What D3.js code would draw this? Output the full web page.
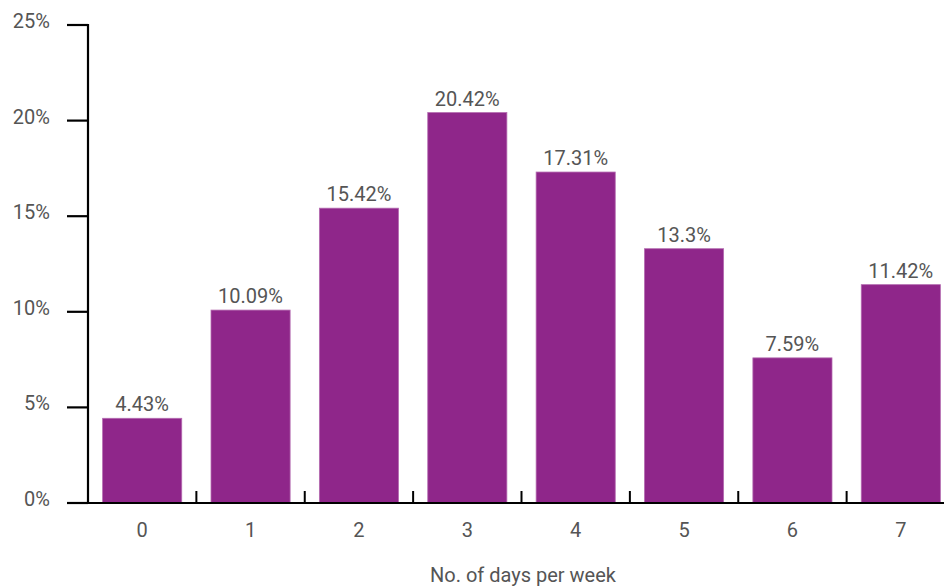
<!DOCTYPE html>
<html>
<head>
<meta charset="utf-8">
<script src="https://cdn.jsdelivr.net/npm/d3@7"></script>
<style>
  html, body { margin: 0; padding: 0; background: #fff; }
  svg { display: block; }
  text { font-family: Roboto, "Noto Sans", sans-serif; fill: #555; }
</style>
</head>
<body>
<svg id="chart" width="944" height="587"></svg>
<script>
// Share of respondents by number of active days per week
const days = ["0", "1", "2", "3", "4", "5", "6", "7"];
const shares = [4.43, 10.09, 15.42, 20.42, 17.31, 13.3, 7.59, 11.42];
const valueLabels = ["4.43%", "10.09%", "15.42%", "20.42%", "17.31%", "13.3%", "7.59%", "11.42%"];
const yTicks = [0, 5, 10, 15, 20, 25];
const xTitle = "No. of days per week";

const svg = d3.select("#chart");
const plotLeft = 88, plotRight = 955, plotTop = 25, plotBottom = 503;
const fontSize = 20;

const x = d3.scaleBand()
  .domain(days)
  .range([plotLeft, plotRight])
  .paddingInner(0.27)
  .paddingOuter(0.135);

const y = d3.scaleLinear()
  .domain([0, 25])
  .range([plotBottom, plotTop]);

// bars
svg.append("g").selectAll("rect")
  .data(days)
  .join("rect")
  .attr("x", d => x(d))
  .attr("y", (d, i) => y(shares[i]))
  .attr("width", x.bandwidth())
  .attr("height", (d, i) => y(0) - y(shares[i]))
  .attr("fill", "#8f268a")
  .attr("stroke", "#b46bb0")
  .attr("stroke-width", 0.8);

// value labels above bars
svg.append("g").selectAll("text")
  .data(days)
  .join("text")
  .attr("x", d => x(d) + x.bandwidth() / 2)
  .attr("y", (d, i) => y(shares[i]) - 7)
  .attr("text-anchor", "middle")
  .attr("font-size", fontSize)
  .text((d, i) => valueLabels[i]);

// y axis
const yAxis = svg.append("g");
yAxis.append("line")
  .attr("x1", plotLeft).attr("x2", plotLeft)
  .attr("y1", y(25) - 1).attr("y2", plotBottom + 1)
  .attr("stroke", "#000").attr("stroke-width", 2.2);
yAxis.selectAll("line.tick")
  .data(yTicks)
  .join("line")
  .attr("class", "tick")
  .attr("x1", 67).attr("x2", plotLeft)
  .attr("y1", d => y(d)).attr("y2", d => y(d))
  .attr("stroke", "#000").attr("stroke-width", 2.2);
yAxis.selectAll("text")
  .data(yTicks)
  .join("text")
  .attr("x", 50)
  .attr("y", d => y(d) + 3)
  .attr("text-anchor", "end")
  .attr("font-size", fontSize)
  .text(d => d + "%");

// x axis
const xAxis = svg.append("g");
xAxis.append("line")
  .attr("x1", plotLeft - 1).attr("x2", 944)
  .attr("y1", plotBottom).attr("y2", plotBottom)
  .attr("stroke", "#000").attr("stroke-width", 2.2);
// small upward ticks between categories
const gap = x.step() * x.paddingInner() / 2;
xAxis.selectAll("line.tick")
  .data(days.slice(1))
  .join("line")
  .attr("class", "tick")
  .attr("x1", d => x(d) - gap).attr("x2", d => x(d) - gap)
  .attr("y1", plotBottom - 12).attr("y2", plotBottom)
  .attr("stroke", "#000").attr("stroke-width", 2);
xAxis.selectAll("text")
  .data(days)
  .join("text")
  .attr("x", d => x(d) + x.bandwidth() / 2)
  .attr("y", 537)
  .attr("text-anchor", "middle")
  .attr("font-size", fontSize)
  .text(d => d);

svg.append("text")
  .attr("x", 523)
  .attr("y", 582)
  .attr("text-anchor", "middle")
  .attr("font-size", fontSize)
  .text(xTitle);
</script>
</body>
</html>
